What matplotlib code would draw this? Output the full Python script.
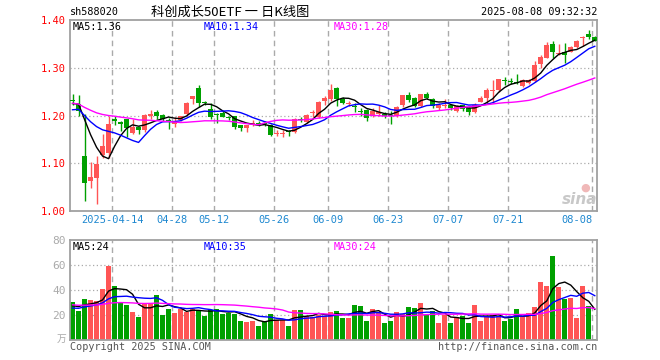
import matplotlib
matplotlib.use('Agg')
import matplotlib.pyplot as plt
import numpy as np
import pandas as pd

# daily candles, 2025-04-02 .. 2025-08-08
opens = [1.232, 1.225, 1.115, 1.063, 1.069, 1.117, 1.122, 1.192, 1.187, 1.192,
         1.163, 1.175, 1.169, 1.199, 1.208, 1.201, 1.191, 1.183, 1.190, 1.203,
         1.234, 1.258, 1.228, 1.213, 1.204, 1.206, 1.197, 1.199, 1.180, 1.174,
         1.182, 1.185, 1.185, 1.181, 1.162, 1.162, 1.167, 1.165, 1.193, 1.187,
         1.205, 1.196, 1.230, 1.235, 1.258, 1.235, 1.225, 1.219, 1.210, 1.212,
         1.198, 1.203, 1.203, 1.202, 1.198, 1.221, 1.242, 1.236, 1.219, 1.244,
         1.235, 1.215, 1.220, 1.221, 1.210, 1.221, 1.215, 1.208, 1.229, 1.2375,
         1.252, 1.253, 1.275, 1.273, 1.270, 1.262, 1.269, 1.272, 1.307, 1.321,
         1.350, 1.328, 1.333, 1.334, 1.343, 1.363, 1.371, 1.364]
highs = [1.245, 1.243, 1.204, 1.102, 1.115, 1.162, 1.200, 1.199, 1.189, 1.192,
         1.192, 1.177, 1.203, 1.212, 1.212, 1.203, 1.195, 1.197, 1.200, 1.228,
         1.240, 1.264, 1.231, 1.227, 1.205, 1.210, 1.200, 1.200, 1.181, 1.181,
         1.190, 1.189, 1.189, 1.183, 1.169, 1.169, 1.169, 1.195, 1.196, 1.203,
         1.212, 1.230, 1.240, 1.265, 1.259, 1.238, 1.231, 1.227, 1.215, 1.214,
         1.215, 1.222, 1.208, 1.210, 1.220, 1.243, 1.250, 1.238, 1.245, 1.250,
         1.236, 1.227, 1.234, 1.224, 1.222, 1.222, 1.217, 1.226, 1.240, 1.258,
         1.274, 1.277, 1.281, 1.278, 1.2875, 1.276, 1.277, 1.314, 1.327, 1.353,
         1.356, 1.350, 1.352, 1.346, 1.358, 1.367, 1.379, 1.366]
lows = [1.222, 1.200, 1.020, 1.049, 1.015, 1.112, 1.110, 1.180, 1.167, 1.154,
        1.162, 1.161, 1.165, 1.192, 1.192, 1.188, 1.172, 1.175, 1.188, 1.202,
        1.225, 1.217, 1.222, 1.192, 1.185, 1.196, 1.190, 1.172, 1.167, 1.165,
        1.178, 1.179, 1.178, 1.158, 1.157, 1.156, 1.157, 1.164, 1.186, 1.185,
        1.197, 1.195, 1.222, 1.231, 1.219, 1.225, 1.219, 1.207, 1.200, 1.188,
        1.196, 1.200, 1.195, 1.182, 1.196, 1.217, 1.228, 1.217, 1.217, 1.234,
        1.215, 1.212, 1.215, 1.211, 1.208, 1.209, 1.201, 1.205, 1.228, 1.225,
        1.227, 1.250, 1.264, 1.265, 1.265, 1.260, 1.265, 1.271, 1.300, 1.320,
        1.321, 1.327, 1.310, 1.333, 1.342, 1.346, 1.360, 1.355]
closes = [1.230, 1.210, 1.059, 1.071, 1.098, 1.137, 1.183, 1.188, 1.182, 1.174,
          1.175, 1.169, 1.201, 1.204, 1.199, 1.192, 1.188, 1.189, 1.199, 1.227,
          1.240, 1.227, 1.226, 1.197, 1.202, 1.197, 1.195, 1.175, 1.174, 1.180,
          1.185, 1.183, 1.183, 1.160, 1.164, 1.164, 1.165, 1.193, 1.191, 1.202,
          1.207, 1.229, 1.237, 1.254, 1.235, 1.227, 1.227, 1.217, 1.208, 1.195,
          1.210, 1.207, 1.200, 1.200, 1.217, 1.242, 1.233, 1.219, 1.244, 1.236,
          1.219, 1.223, 1.222, 1.215, 1.219, 1.214, 1.208, 1.223, 1.2375, 1.253,
          1.254, 1.276, 1.273, 1.271, 1.268, 1.274, 1.274, 1.306, 1.323, 1.348,
          1.334, 1.330, 1.326, 1.344, 1.357, 1.365, 1.365, 1.357]
volumes = [30.1, 23.6, 33, 31.7, 30.9, 41, 59, 43, 30, 28.2,
           22.8, 18.8, 29, 30, 36.2, 20.1, 25, 22, 25, 22.3,
           25, 24.2, 19.6, 24.2, 25, 21, 22, 21, 15.6, 14.8,
           15.3, 11.3, 15.6, 21, 16.1, 16.1, 11.3, 24.2, 24.2, 19.6,
           18.3, 20.1, 19.6, 22.8, 23.4, 18, 18, 28.2, 27.4, 15.3,
           25, 21.5, 14, 15.6, 22.8, 21, 26.8, 26, 30, 20.1,
           23.6, 14, 20.1, 14, 18.3, 19.6, 14, 28.2, 15.6, 18.3,
           20.1, 19.3, 15.6, 16.6, 25, 18.3, 21.5, 26.8, 46.2, 43.5,
           67.1, 42.1, 32.8, 34, 17.4, 43, 27.4, 1.1]

# earlier sessions, only used to seed the moving averages
prior_closes = [1.26, 1.27, 1.25, 1.26, 1.24, 1.25, 1.23, 1.24, 1.22, 1.23,
                1.24, 1.22, 1.21, 1.23, 1.22, 1.21, 1.22, 1.23, 1.21, 1.21,
                1.20, 1.19, 1.20, 1.20, 1.205, 1.215, 1.22, 1.23, 1.23]
prior_volumes = [34, 31, 28, 30, 27, 33, 29, 26, 31, 28, 30, 32, 27, 29, 28,
                 31, 29, 27, 30, 29, 25, 22, 24, 23, 24, 27, 26, 28, 26]

tick_idx = [7, 17, 24, 34, 43, 53, 63, 73, 87]
tick_labels = ['2025-04-14', '04-28', '05-12', '05-26', '06-09',
               '06-23', '07-07', '07-21', '08-08']
price_ticks = [1.00, 1.10, 1.20, 1.30, 1.40]
vol_ticks = [20, 40, 60, 80]
price_ma_text = ['MA5:1.36', 'MA10:1.34', 'MA30:1.28']
vol_ma_text = ['MA5:24', 'MA10:35', 'MA30:24']

RED = '#ff5555'
GREEN = '#00a000'
GRID = '#aaaaaa'
MONO = 'DejaVu Sans Mono'
W, H = 660, 360


def fx(px):
    return px / W


def fy(py):
    return 1 - py / H


n = len(closes)
x = np.arange(n)
o = np.array(opens)
c = np.array(closes)
up = c >= o
colors = np.where(up, RED, GREEN)

fig = plt.figure(figsize=(6.6, 3.6), dpi=100)
ax1 = fig.add_axes([fx(70), fy(211), 527 / W, 191 / H])
ax2 = fig.add_axes([fx(70), fy(340), 527 / W, 100 / H])

xlo, xhi = -0.42, 87.37
for ax in (ax1, ax2):
    ax.set_xlim(xlo, xhi)
    for s in ax.spines.values():
        s.set_color('#a0a0a0')
        s.set_linewidth(1.3)
    ax.tick_params(length=0)
    for i in tick_idx:
        ax.axvline(i - 0.417, color=GRID, lw=1, ls=(0, (4, 3)), zorder=0)

# price panel
ax1.set_ylim(1.00, 1.40)
for v in price_ticks[1:-1]:
    ax1.axhline(v, color=GRID, lw=0.9, ls=(0, (1, 2)), zorder=0)
ax1.vlines(x, lows, highs, colors=colors, lw=1, zorder=2)
body_bot = np.minimum(o, c)
body_h = np.maximum(np.abs(c - o), 0.002)
ax1.bar(x, body_h, bottom=body_bot, width=0.82, color=colors, lw=0, zorder=3)

all_c = pd.Series(prior_closes + closes)
ax1.plot(x, all_c.rolling(5).mean().to_numpy()[-n:], color='black', lw=1, zorder=4)
ax1.plot(x, all_c.rolling(10).mean().to_numpy()[-n:], color='#0000ff', lw=1, zorder=4)
ax1.plot(x, all_c.rolling(30).mean().to_numpy()[-n:], color='#ff00ff', lw=1, zorder=4)

ax1.set_yticks(price_ticks)
ax1.set_yticklabels([f'{v:.2f}' for v in price_ticks], color='red',
                    fontsize=7.5, family=MONO)
ax1.tick_params(axis='y', pad=3)
ax1.set_xticks([i - 0.417 for i in tick_idx])
ax1.set_xticklabels(tick_labels, color='#1e88d0', fontsize=7.5, family=MONO)
ax1.get_xticklabels()[-1].set_ha('right')
ax1.tick_params(axis='x', pad=3)

# volume panel
ax2.set_ylim(0, 80)
for v in vol_ticks[:-1]:
    ax2.axhline(v, color=GRID, lw=0.9, ls=(0, (1, 2)), zorder=0)
ax2.bar(x, volumes, width=0.82, color=colors, lw=0, zorder=2)
all_v = pd.Series(prior_volumes + volumes)
ax2.plot(x, all_v.rolling(5).mean().to_numpy()[-n:], color='black', lw=1, zorder=4)
ax2.plot(x, all_v.rolling(10).mean().to_numpy()[-n:], color='#0000ff', lw=1, zorder=4)
ax2.plot(x, all_v.rolling(30).mean().to_numpy()[-n:], color='#ff00ff', lw=1, zorder=4)
ax2.set_yticks(vol_ticks)
ax2.set_yticklabels([str(v) for v in vol_ticks], color='#aaaaaa',
                    fontsize=8, family=MONO)
ax2.tick_params(axis='y', pad=3)
ax2.set_xticks([])

# header texts
fig.text(fx(70), fy(12), 'sh588020', fontsize=7.3, family=MONO, va='center')
fig.text(fx(230), fy(12), '科创成长50ETF 一 日K线图', fontsize=9.5,
         family=['Noto Sans CJK SC', 'DejaVu Sans'], va='center', ha='center')
fig.text(fx(597), fy(12), '2025-08-08 09:32:32', fontsize=7.3, family=MONO,
         va='center', ha='right')

ma_cols = ['black', '#0000ff', '#ff00ff']
ma_x = [73, 204, 334]
for t, col, px in zip(price_ma_text, ma_cols, ma_x):
    fig.text(fx(px), fy(27), t, fontsize=7.3, family=MONO, color=col, va='center')
for t, col, px in zip(vol_ma_text, ma_cols, ma_x):
    fig.text(fx(px), fy(247), t, fontsize=7.3, family=MONO, color=col, va='center')

fig.text(fx(66), fy(339), '万', fontsize=7, color='#aaaaaa', ha='right', va='center',
         family=['Noto Sans CJK SC', 'DejaVu Sans'])
fig.text(fx(70), fy(347), 'Copyright 2025 SINA.COM', fontsize=7.3, family=MONO,
         color='#555555', va='center')
fig.text(fx(597), fy(347), 'http://finance.sina.com.cn', fontsize=7.3, family=MONO,
         color='#555555', va='center', ha='right')

# sina watermark
fig.text(fx(580), fy(199), 'sina', fontsize=11, style='italic', weight='bold',
         color='#c8c8c8', ha='center', va='center')
fig.text(fx(585), fy(188), '●', fontsize=8, color='#f0b8b8', ha='center', va='center')

fig.savefig('out.png', dpi=100)
